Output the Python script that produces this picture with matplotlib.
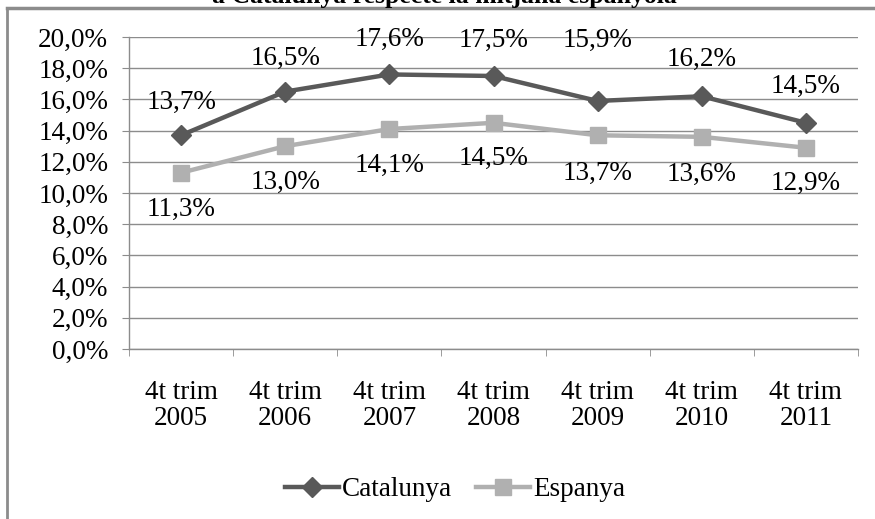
import matplotlib
matplotlib.use("Agg")
import matplotlib.pyplot as plt
from matplotlib.lines import Line2D
from matplotlib.ticker import FuncFormatter

# 数据
categories = ["4t trim\n2005", "4t trim\n2006", "4t trim\n2007", "4t trim\n2008",
              "4t trim\n2009", "4t trim\n2010", "4t trim\n2011"]
catalunya = [13.7, 16.5, 17.6, 17.5, 15.9, 16.2, 14.5]
espanya = [11.3, 13.0, 14.1, 14.5, 13.7, 13.6, 12.9]

plt.rcParams['font.family'] = ['Liberation Serif', 'DejaVu Serif']
fs = 19.5

fig = plt.figure(figsize=(8.75, 5.19), dpi=100)
ax = fig.add_axes([129 / 875, 1 - 349 / 519, (858 - 129) / 875, (349 - 37) / 519])

x = list(range(len(categories)))
cat_color = '#595959'
esp_color = '#b0b0b0'

ax.plot(x, catalunya, color=cat_color, lw=3.2, marker='D', ms=10, label='Catalunya', zorder=3)
ax.plot(x, espanya, color=esp_color, lw=3.2, marker='s', ms=12, label='Espanya', zorder=3)

# 数据标签 (垂直偏移, 像素)
cat_dy = [33, 33, 35, 36, 61, 37, 36]
esp_dy = [-37, -36, -36, -36, -38, -38, -36]
for i, v in enumerate(catalunya):
    ax.annotate(f"{v:.1f}%".replace('.', ','), (i, v), xytext=(0, cat_dy[i]),
                textcoords='offset pixels', ha='center', va='center', fontsize=fs, zorder=4)
for i, v in enumerate(espanya):
    ax.annotate(f"{v:.1f}%".replace('.', ','), (i, v), xytext=(0, esp_dy[i]),
                textcoords='offset pixels', ha='center', va='center', fontsize=fs, zorder=4)

ax.set_xlim(-0.5, len(categories) - 0.5)
ax.set_ylim(0, 20)
ax.set_yticks(range(0, 21, 2))
ax.yaxis.set_major_formatter(FuncFormatter(lambda v, p: f"{v:.1f}%".replace('.', ',')))
ax.set_xticks(x)
ax.set_xticklabels(categories, fontsize=fs, linespacing=1.1)
ax.set_xticks([i - 0.5 for i in range(len(categories) + 1)], minor=True)
ax.tick_params(axis='x', which='major', length=0, pad=22)
ax.tick_params(axis='x', which='minor', length=5, color='#8c8c8c')
ax.tick_params(axis='y', length=5, color='#8c8c8c', pad=10, labelsize=fs)

ax.grid(axis='y', color='#8c8c8c', lw=1)
ax.set_axisbelow(True)
for s in ['top', 'right']:
    ax.spines[s].set_visible(False)
for s in ['left', 'bottom']:
    ax.spines[s].set_color('#8c8c8c')
    ax.spines[s].set_linewidth(1)

fig.legend(loc='center', bbox_to_anchor=(0.52, 1 - 490 / 519), ncol=2, frameon=False,
           fontsize=fs, handlelength=2.0, handletextpad=0.1, columnspacing=0.9)

# 外框与被裁切的标题
fig.add_artist(Line2D([7 / 875, 7 / 875], [0, 1 - 8 / 519], color='#8c8c8c', lw=2))
fig.add_artist(Line2D([7 / 875, 1], [1 - 8 / 519, 1 - 8 / 519], color='#8c8c8c', lw=2.5))
fig.text(444 / 875, 1 - 3 / 519, "a Catalunya respecte la mitjana espanyola",
         ha='center', va='baseline', fontsize=fs - 1, fontweight='bold')

fig.savefig('out.png', dpi=100)
